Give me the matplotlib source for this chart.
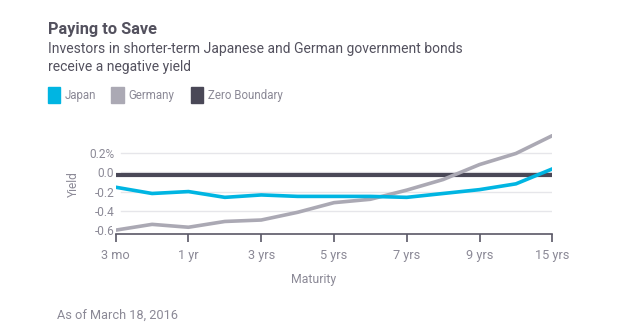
import matplotlib.pyplot as plt
from matplotlib.patches import Rectangle

# Government bond yields by maturity (percent)
maturities = ['3 mo', '6 mo', '1 yr', '2 yrs', '3 yrs', '4 yrs', '5 yrs',
              '6 yrs', '7 yrs', '8 yrs', '9 yrs', '10 yrs', '15 yrs']
japan = [-0.155, -0.22, -0.20, -0.26, -0.235, -0.25, -0.25,
         -0.25, -0.26, -0.22, -0.18, -0.12, 0.035]
germany = [-0.60, -0.54, -0.57, -0.51, -0.495, -0.415, -0.315,
           -0.28, -0.185, -0.075, 0.08, 0.195, 0.38]
zero_boundary = -0.03
yticks = [-0.6, -0.4, -0.2, 0.0, 0.2]
ytick_labels = ['-0.6', '-0.4', '-0.2', '0.0', '0.2%']

c_japan = '#00b5e2'
c_germany = '#aba9b4'
c_zero = '#4a4857'
c_text = '#53515e'
c_light = '#8b8996'

plt.rcParams['font.family'] = ['Roboto', 'DejaVu Sans']

W, H = 623, 323
fig = plt.figure(figsize=(W / 100, H / 100), dpi=100)

# plot area in pixel coordinates
left, right, top, bottom = 115.7, 552.3, 133.7, 234.0
ax = fig.add_axes([left / W, 1 - bottom / H, (right - left) / W, (bottom - top) / H])

x = list(range(len(maturities)))
ax.plot(x, [zero_boundary] * len(x), color=c_zero, lw=3, solid_capstyle='butt', zorder=3)
ax.plot(x, germany, color=c_germany, lw=2.6, zorder=4)
ax.plot(x, japan, color=c_japan, lw=2.6, zorder=5)

ax.set_xlim(0, len(x) - 1)
ax.set_ylim(-0.64, 0.40)
ax.set_xticks(x[::2])
ax.set_xticklabels(maturities[::2])
ax.set_yticks(yticks)
ax.set_yticklabels(ytick_labels)

for y in yticks[1:]:
    ax.axhline(y, xmin=0.012, color='#e6e6ea', lw=1, zorder=1)

for s in ['top', 'right', 'left']:
    ax.spines[s].set_visible(False)
ax.spines['bottom'].set_color('#5a5866')
ax.spines['bottom'].set_linewidth(1.2)
ax.tick_params(axis='x', length=6, width=1.2, color='#5a5866', labelcolor=c_light,
               labelsize=9.2, pad=5)
ax.tick_params(axis='y', length=0, labelcolor=c_light, labelsize=8.6, pad=1)

ax.set_ylabel('Yield', color=c_light, fontsize=8.6, labelpad=7)
fig.text(314 / W, 1 - 283 / H, 'Maturity', color=c_light, fontsize=8.8,
         ha='center', va='baseline')

# titles
fig.text(47.7 / W, 1 - 34 / H, 'Paying to Save', fontsize=11.8, fontweight='bold',
         color=c_text, va='baseline')
fig.text(47.7 / W, 1 - 53.3 / H, 'Investors in shorter-term Japanese and German government bonds',
         fontsize=10, color=c_text, va='baseline')
fig.text(47.7 / W, 1 - 71.5 / H, 'receive a negative yield',
         fontsize=10, color=c_text, va='baseline')

# legend
for x0, label, col in [(47.7, 'Japan', c_japan), (111, 'Germany', c_germany),
                       (190.7, 'Zero Boundary', c_zero)]:
    fig.patches.append(Rectangle((x0 / W, 1 - 102.7 / H), 12.7 / W, 15.4 / H,
                                 transform=fig.transFigure, color=col, figure=fig))
    fig.text((x0 + 17.3) / W, 1 - 99.3 / H, label, fontsize=8.3, color=c_light, va='baseline')

fig.text(56.7 / W, 1 - 318.3 / H, 'As of March 18, 2016', fontsize=9.2,
         color=c_light, va='baseline')

fig.savefig('out.png', dpi=100)
